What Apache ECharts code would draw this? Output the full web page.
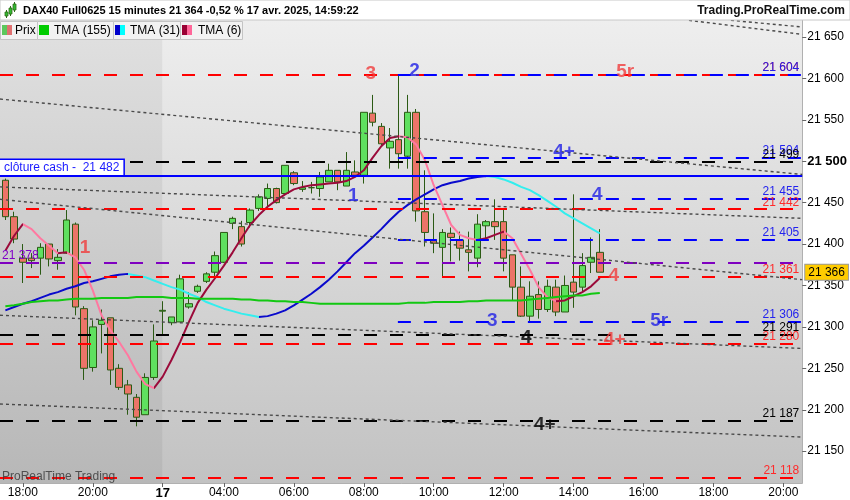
<!DOCTYPE html>
<html><head><meta charset="utf-8">
<script src="https://cdn.jsdelivr.net/npm/echarts@6/dist/echarts.min.js"></script>
<style>html,body{margin:0;padding:0;background:#fff}#c{width:850px;height:500px}</style>
</head><body><div id="c"></div>
<script>
// ---------- data (15-minute DAX40 candles) ----------
const opens  = [21477,21433,21383,21383,21383,21400,21380,21389,21424,21322,21251,21303,21311,21250,21230,21215,21194,21239,21319,21305,21306,21324,21343,21355,21366,21378,21425,21421,21426,21443,21455,21467,21461,21486,21466,21468,21467,21475,21489,21470,21487,21483,21558,21542,21516,21526,21506,21559,21439,21404,21396,21413,21405,21393,21383,21422,21427,21427,21387,21348,21313,21339,21321,21348,21318,21354,21348,21378,21390];
const highs  = [21479,21439,21400,21389,21401,21400,21394,21441,21426,21325,21308,21321,21311,21255,21236,21219,21244,21303,21331,21312,21363,21342,21351,21366,21391,21414,21433,21428,21443,21460,21473,21468,21495,21488,21476,21475,21487,21497,21489,21511,21501,21559,21580,21546,21540,21604,21580,21563,21489,21437,21418,21420,21415,21415,21436,21429,21454,21442,21387,21373,21355,21355,21357,21357,21362,21460,21389,21408,21418];
const lows   = [21429,21401,21353,21371,21363,21373,21369,21388,21314,21236,21246,21268,21230,21224,21194,21180,21194,21236,21291,21302,21306,21322,21341,21353,21361,21377,21418,21397,21420,21440,21443,21449,21461,21471,21463,21461,21457,21475,21465,21470,21481,21473,21542,21517,21491,21491,21491,21427,21397,21389,21360,21379,21380,21367,21372,21405,21405,21367,21332,21312,21306,21310,21318,21313,21318,21323,21342,21365,21366];
const closes = [21433,21406,21378,21380,21396,21382,21384,21429,21324,21250,21300,21308,21248,21227,21219,21191,21239,21283,21320,21312,21358,21328,21349,21364,21386,21414,21431,21400,21441,21457,21467,21450,21495,21473,21468,21468,21481,21489,21475,21489,21483,21559,21547,21521,21524,21509,21559,21440,21414,21401,21414,21408,21395,21390,21424,21427,21421,21383,21348,21313,21337,21321,21349,21318,21350,21342,21374,21384,21366];
const tma155 = [21325,21326,21328,21330,21331,21332,21332,21333,21334,21334,21334,21335,21335,21335,21335,21336,21336,21336,21336,21335,21335,21335,21334,21334,21334,21334,21334,21333,21333,21332,21332,21331,21331,21330,21330,21329,21328,21328,21328,21328,21328,21328,21328,21328,21328,21328,21329,21329,21329,21330,21330,21330,21330,21331,21331,21332,21332,21332,21332,21332,21333,21334,21335,21336,21337,21338,21338,21340,21341];
const tma31  = [21320,21324,21328,21331,21335,21339,21342,21346,21349,21353,21355,21358,21361,21363,21364,21362,21360,21356,21352,21348,21345,21340,21336,21330,21326,21322,21319,21316,21314,21312,21313,21316,21320,21326,21333,21340,21348,21357,21367,21378,21389,21398,21408,21418,21429,21439,21447,21454,21460,21466,21471,21474,21476,21479,21481,21482,21481,21478,21474,21469,21465,21459,21452,21445,21437,21431,21425,21419,21413];
const tma6   = [21392,21410,21424,21418,21407,21398,21389,21390,21384,21369,21344,21314,21296,21282,21266,21246,21231,21226,21240,21260,21282,21306,21329,21345,21359,21374,21390,21407,21423,21435,21445,21453,21460,21466,21469,21471,21472,21473,21474,21476,21481,21489,21504,21518,21528,21530,21529,21520,21501,21471,21447,21423,21411,21407,21405,21407,21411,21415,21407,21388,21369,21348,21336,21331,21332,21337,21342,21349,21359];

const xTickIdx    = [2,10,18,25,33,41,49,57,65,73,81,89];
const xTickLabels = ['18:00','20:00','17','04:00','06:00','08:00','10:00','12:00','14:00','16:00','18:00','20:00'];
const yTicks      = [21150,21200,21250,21300,21350,21400,21450,21500,21550,21600,21650];

// horizontal levels (value, start bar index; null = from the left edge)
const levelValues = [21604,21604,21504,21499,21482,21455,21442,21405,21378,21361,21306,21291,21280,21187,21118];
const levelStart  = [null,44.9,44.9,null,null,44.9,null,44.9,null,null,44.9,null,null,null,null];
const levelKind   = ['red','blue','blue','black','cash','blue','red','blue','purple','red','blue','black','red','black','red'];

// dotted trend lines (start/end bar index and value)
const trendX0 = [-0.614,-0.614,-0.614,-0.614,-0.614,78.2,83];
const trendV0 = [21575,21469,21454,21314,21207,21670,21670];
const trendX1 = [91.157,91.157,91.157,91.157,91.157,91.157,91.157];
const trendV1 = [21484,21431,21357,21274,21167,21653,21662];

// wave annotations
const annoTexts = ['1','1','3','2','5r','4+','4','4','3','5r','4','4+','4+'];
const annoX     = [9.1,39.8,41.8,46.8,70.9,63.9,67.7,69.6,55.7,74.8,59.6,69.7,61.7];
const annoV     = [21395,21458,21606,21609,21608,21511,21459,21362,21308,21308,21287,21284,21182];
const annoKind  = ['red','blue','red','blue','red','blue','blue','red','blue','blue','black','red','black'];

const lastPrice = 21366;
const prevDayEnd = 17.95;

// ---------- styles ----------
const X_MIN = -0.614, X_MAX = 91.157, Y_MIN = 21111.6, Y_MAX = 21670.4;
const FONT = 'Liberation Sans, Arial, sans-serif';
const lineCol = {red:'#ff0000', blue:'#0000ff', black:'#000000', purple:'#7f00c0', cash:'#0000ff'};
const textCol = {red:'#ff2a2a', blue:'#2222ee', black:'#000000', purple:'#8000c8'};
const annoCol = {red:'#f03c3c', blue:'#1f1fe6', black:'#000000'};

const fmt = v => { const s = String(Math.round(v)); return s.slice(0, -3) + ' ' + s.slice(-3); };

function slopePieces(arr, up, down) {
  const pieces = [];
  let start = -10, dir = arr[1] >= arr[0];
  for (let i = 2; i < arr.length; i++) {
    const d = arr[i] >= arr[i - 1];
    if (d !== dir) { pieces.push({gte: start, lt: i - 1, color: dir ? up : down}); start = i - 1; dir = d; }
  }
  pieces.push({gte: start, lte: 1000, color: dir ? up : down});
  return pieces;
}

const candleData = opens.map((o, i) => [i, o, closes[i], lows[i], highs[i]]);
const toXY = arr => arr.map((v, i) => [i, v]);

const levelLines = levelValues.map((v, k) => {
  const kind = levelKind[k];
  const x0 = levelStart[k] == null ? X_MIN : levelStart[k];
  let label;
  if (kind === 'cash') {
    label = {show: true, position: 'insideStartTop', distance: [0, 1], formatter: 'clôture cash -  ' + fmt(v),
      color: '#1a1aff', fontSize: 12, fontFamily: FONT, backgroundColor: '#ffffff',
      borderColor: '#0000ff', borderWidth: 1.5, padding: [2, 4, 1, 4]};
  } else if (kind === 'purple') {
    label = {show: true, position: 'insideStartTop', distance: [2, 1], formatter: fmt(v), color: textCol.purple, fontSize: 12, fontFamily: FONT};
  } else {
    label = {show: true, position: 'insideEndTop', distance: [3, 1], formatter: fmt(v), color: textCol[kind], fontSize: 12, fontFamily: FONT};
  }
  return [
    {coord: [x0, v], lineStyle: {color: lineCol[kind], width: 2, type: kind === 'cash' ? 'solid' : [13, 13]}, label},
    {coord: [X_MAX, v]}
  ];
});

const trendLines = trendX0.map((x0, k) => [
  {coord: [x0, trendV0[k]]}, {coord: [trendX1[k], trendV1[k]]}
]);

const annoData = annoTexts.map((t, k) => ({value: [annoX[k], annoV[k]], name: t,
  label: {color: annoCol[annoKind[k]]}}));

const chart = echarts.init(document.getElementById('c'), null, {renderer: 'canvas'});

const legendItems = [
  {x: 0, w: 37, text: 'Prix', tx: 15, sw: ['#5cc85c', '#e07070']},
  {x: 37, w: 76, text: 'TMA (155)', tx: 54, sw: ['#00cc00', '#00cc00']},
  {x: 113, w: 67, text: 'TMA (31)', tx: 130, sw: ['#0000cc', '#00ffff']},
  {x: 180, w: 62, text: 'TMA (6)', tx: 198, sw: ['#990033', '#ff6699']}
];
const graphics = [
  {type: 'rect', shape: {x: 0, y: 0, width: 850, height: 20}, style: {fill: '#ffffff', stroke: '#c8c8c8', lineWidth: 1}, z: 100},
  {type: 'text', x: 23, y: 11, style: {text: 'DAX40 Full0625 15 minutes 21 364 -0,52 % 17 avr. 2025, 14:59:22', fill: '#000', font: 'bold 11px ' + FONT, verticalAlign: 'middle'}, z: 101},
  {type: 'text', x: 845, y: 11, style: {text: 'Trading.ProRealTime.com', fill: '#111', font: 'bold 12px ' + FONT, align: 'right', verticalAlign: 'middle'}, z: 101},
  // small icon
  {type: 'line', shape: {x1: 6.5, y1: 10, x2: 6.5, y2: 18}, style: {stroke: '#2d6a16', lineWidth: 1}, z: 101},
  {type: 'rect', shape: {x: 5, y: 12, width: 3, height: 4}, style: {fill: '#33bb33', stroke: '#2d6a16', lineWidth: 0.8}, z: 102},
  {type: 'line', shape: {x1: 10.5, y1: 6, x2: 10.5, y2: 16}, style: {stroke: '#2d6a16', lineWidth: 1}, z: 101},
  {type: 'rect', shape: {x: 9, y: 8, width: 3, height: 6}, style: {fill: '#33bb33', stroke: '#2d6a16', lineWidth: 0.8}, z: 102},
  {type: 'line', shape: {x1: 14.5, y1: 2, x2: 14.5, y2: 12}, style: {stroke: '#2d6a16', lineWidth: 1}, z: 101},
  {type: 'rect', shape: {x: 13, y: 4, width: 3, height: 6}, style: {fill: '#33bb33', stroke: '#2d6a16', lineWidth: 0.8}, z: 102},
  {type: 'text', x: 2, y: 477, style: {text: 'ProRealTime Trading', fill: 'rgba(60,60,60,0.85)', font: '12px ' + FONT, verticalAlign: 'middle'}, z: 50}
];
legendItems.forEach(it => {
  graphics.push({type: 'rect', shape: {x: it.x + 0.5, y: 21.5, width: it.w, height: 18}, style: {fill: '#f2f2f2', stroke: '#c4c4c4', lineWidth: 1}, z: 100});
  graphics.push({type: 'rect', shape: {x: it.x + 2, y: 25, width: 5, height: 10}, style: {fill: it.sw[0]}, z: 101});
  graphics.push({type: 'rect', shape: {x: it.x + 7, y: 25, width: 5, height: 10}, style: {fill: it.sw[1]}, z: 101});
  graphics.push({type: 'text', x: it.tx, y: 31, style: {text: it.text, fill: '#000', font: '12px ' + FONT, verticalAlign: 'middle'}, z: 101});
});

chart.setOption({
  animation: false,
  textStyle: {fontFamily: FONT},
  grid: {left: 0, right: 47, top: 20, bottom: 17, show: true, borderWidth: 0,
    backgroundColor: {type: 'linear', x: 0, y: 0, x2: 0, y2: 1,
      colorStops: [{offset: 0, color: '#eeeeee'}, {offset: 1, color: '#c2c2c2'}]}},
  xAxis: {type: 'value', min: X_MIN, max: X_MAX, splitLine: {show: false},
    axisLine: {show: true, onZero: false, lineStyle: {color: '#b0b0b0'}},
    axisTick: {show: true, customValues: xTickIdx, length: 4, lineStyle: {color: '#666'}},
    axisLabel: {customValues: xTickIdx, margin: 4, fontSize: 12, color: '#000', fontFamily: FONT,
      formatter: v => { const t = xTickLabels[xTickIdx.indexOf(Math.round(v))]; return t === '17' ? '{b|17}' : t; },
      rich: {b: {fontWeight: 'bold', fontSize: 13, fontFamily: FONT, color: '#000'}}}},
  yAxis: {type: 'value', position: 'right', min: Y_MIN, max: Y_MAX, splitLine: {show: false},
    axisLine: {show: true, onZero: false, lineStyle: {color: '#b0b0b0'}},
    axisTick: {show: true, customValues: yTicks, length: 4, lineStyle: {color: '#666'}},
    axisLabel: {customValues: yTicks, margin: 5, fontSize: 12, color: '#000', fontFamily: FONT,
      formatter: v => Math.round(v) === 21500 ? '{b|' + fmt(v) + '}' : fmt(v),
      rich: {b: {fontWeight: 'bold', fontSize: 13, fontFamily: FONT, color: '#000'}}}},
  visualMap: [
    {show: false, type: 'piecewise', seriesIndex: 4, dimension: 0, pieces: slopePieces(tma31, '#0a0acc', '#33eeee')},
    {show: false, type: 'piecewise', seriesIndex: 5, dimension: 0, pieces: slopePieces(tma6, '#9b0a3a', '#ff78a0')}
  ],
  series: [
    {type: 'line', data: [], z: 1, silent: true,
      markArea: {silent: true, itemStyle: {color: 'rgba(0,0,0,0.055)'}, data: [[{xAxis: X_MIN}, {xAxis: prevDayEnd}]]}},
    {type: 'line', data: [], z: 2, silent: true,
      markLine: {silent: true, symbol: ['none', 'none'], animation: false, data: levelLines}},
    {type: 'line', data: [], z: 2, silent: true,
      markLine: {silent: true, symbol: ['none', 'none'], animation: false,
        lineStyle: {color: '#4a4a4a', width: 1.4, type: [3, 3]}, label: {show: false}, data: trendLines}},
    {type: 'candlestick', data: candleData, encode: {x: 0, y: [1, 2, 3, 4]}, barWidth: 7, z: 3,
      itemStyle: {color: '#5fe05f', color0: '#ec7468', borderColor: '#2b5a14', borderColor0: '#2b5a14', borderWidth: 1}},
    {type: 'line', data: toXY(tma31), symbol: 'none', z: 4, lineStyle: {width: 2}},
    {type: 'line', data: toXY(tma6), symbol: 'none', z: 4, lineStyle: {width: 2}},
    {type: 'line', data: toXY(tma155), symbol: 'none', z: 4, lineStyle: {width: 2, color: '#12c812'}, itemStyle: {color: '#12c812'}},
    {type: 'scatter', data: annoData, symbolSize: 0, z: 6, silent: true,
      label: {show: true, position: 'inside', formatter: p => p.name, fontSize: 19, fontWeight: 'bold', fontFamily: FONT}},
    {type: 'line', data: [], z: 7, silent: true,
      markLine: {silent: true, symbol: ['none', 'none'], lineStyle: {width: 1, color: 'rgba(0,0,0,0)', type: 'solid'},
        data: [{yAxis: lastPrice, label: {show: true, position: 'end', distance: 3, formatter: fmt(lastPrice),
          color: '#000', fontSize: 12, fontFamily: FONT, backgroundColor: '#ffcc00', borderColor: '#999', borderWidth: 1, padding: [2, 3, 1, 3]}}]}}
  ],
  graphic: graphics
});
</script></body></html>
